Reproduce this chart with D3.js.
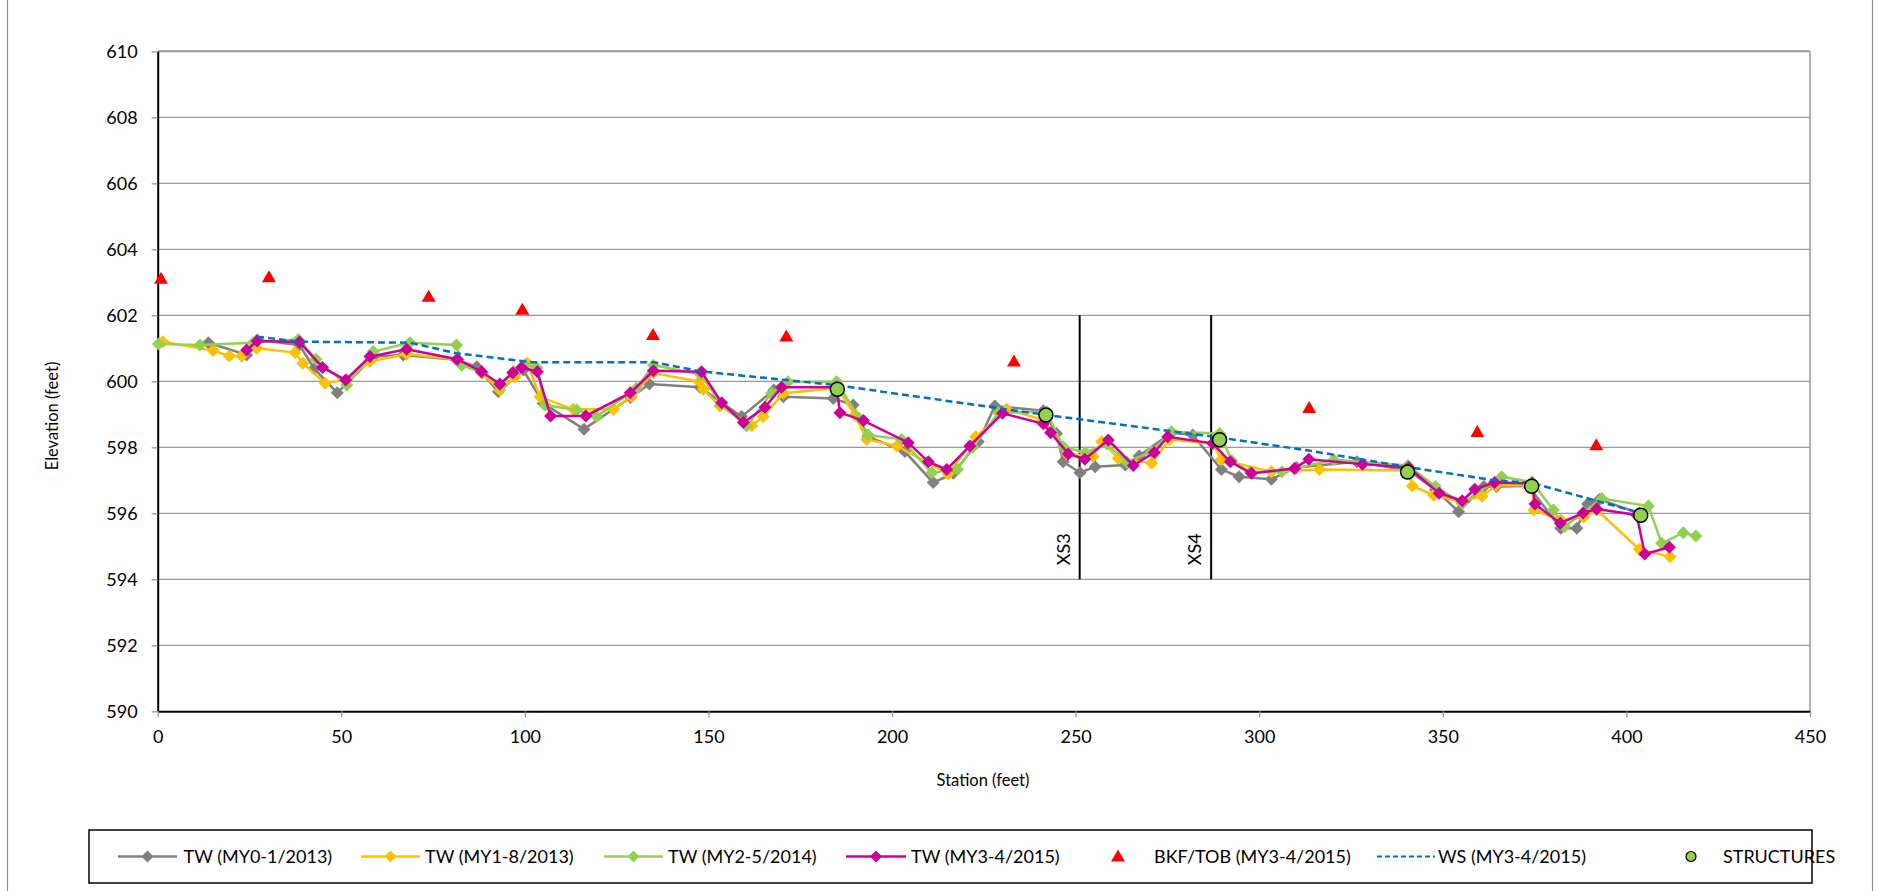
<!DOCTYPE html>
<html><head><meta charset="utf-8">
<script src="https://cdn.jsdelivr.net/npm/d3@7"></script>
<style>
html,body{margin:0;padding:0;background:#fff;}
svg{display:block;font-family:Lato, "Open Sans", sans-serif;}
</style></head>
<body><svg id="c" width="1881" height="891"></svg>
<script>
// ---- data ----
const yTicks = [590,592,594,596,598,600,602,604,606,608,610];
const xTicks = [0,50,100,150,200,250,300,350,400,450];

const twMY0 = [[13.8,601.17],[24.2,600.80],[27.1,601.25],[38.6,601.10],[42.6,600.39],[48.9,599.65],[58.8,600.75],[66.9,600.80],[81.4,600.65],[86.9,600.44],[92.8,599.68],[99.6,600.34],[105.0,599.33],[116.1,598.55],[128.8,599.51],[133.9,599.92],[147.7,599.82],[159.0,598.93],[167.8,599.74],[170.4,599.53],[184.0,599.48],[189.4,599.28],[193.5,598.32],[203.5,597.87],[211.2,596.93],[216.7,597.21],[223.5,598.17],[228.0,599.25],[241.2,599.11],[244.8,598.42],[246.6,597.56],[251.2,597.23],[255.3,597.41],[263.5,597.46],[267.3,597.74],[276.1,598.44],[281.9,598.37],[289.7,597.33],[294.5,597.11],[303.3,597.03],[310.1,597.39],[326.6,597.56],[340.7,597.30],[348.0,596.71],[354.3,596.05],[361.2,596.81],[364.6,596.81],[373.3,596.83],[382.1,595.55],[386.5,595.55],[389.4,596.28],[392.6,596.42],[403.5,596.00]];

const twMY1 = [[1.4,601.20],[15.1,600.93],[19.5,600.77],[22.9,600.77],[27.0,601.00],[37.4,600.87],[39.5,600.55],[45.6,599.94],[51.5,600.05],[57.8,600.60],[67.8,600.83],[81.9,600.65],[88.2,600.25],[93.2,599.74],[97.3,600.12],[100.7,600.55],[104.1,599.53],[113.2,599.15],[124.1,599.15],[129.0,599.55],[135.0,600.25],[147.5,599.99],[148.6,599.76],[153.1,599.25],[161.8,598.65],[164.9,598.93],[170.4,599.64],[185.1,599.80],[189.9,598.98],[193.1,598.24],[201.3,598.04],[215.3,597.19],[222.8,598.32],[231.2,599.15],[241.2,598.83],[247.6,597.80],[254.8,597.72],[257.1,598.17],[261.6,597.67],[270.7,597.52],[275.6,598.24],[287.5,598.10],[289.7,597.62],[303.3,597.26],[316.4,597.33],[340.5,597.30],[341.7,596.83],[347.5,596.55],[355.0,596.35],[360.7,596.52],[364.5,596.85],[374.3,596.85],[374.8,596.10],[382.1,595.80],[388.4,595.88],[392.0,596.10],[403.5,594.91],[411.9,594.68]];

const twMY2 = [[0.2,601.13],[11.5,601.10],[26.0,601.17],[38.3,601.27],[43.1,600.67],[51.5,599.89],[58.7,600.90],[68.7,601.17],[81.4,601.10],[82.8,600.49],[88.5,600.25],[93.5,599.85],[97.0,600.30],[100.0,600.50],[103.2,600.42],[105.5,599.28],[114.1,599.13],[119.5,598.93],[130.4,599.79],[135.0,600.49],[148.0,600.20],[153.5,599.30],[160.4,598.65],[167.2,599.64],[171.7,599.99],[184.9,599.99],[191.1,598.88],[193.5,598.37],[202.6,598.24],[210.8,597.23],[217.8,597.33],[222.0,598.00],[229.0,599.05],[242.1,599.08],[246.6,598.02],[252.6,597.84],[258.5,598.10],[264.0,597.55],[270.7,597.87],[276.1,598.47],[289.2,598.42],[292.5,597.60],[297.5,597.25],[306.2,597.26],[320.3,597.62],[340.5,597.45],[348.0,596.81],[355.3,596.30],[366.0,597.11],[374.3,596.95],[380.1,596.10],[383.1,595.59],[393.3,596.45],[406.0,596.22],[409.6,595.09],[415.5,595.41],[418.9,595.31]];

const twMY3 = [[24.2,600.95],[27.1,601.22],[38.6,601.19],[44.9,600.42],[51.2,600.04],[57.8,600.75],[67.8,600.97],[81.6,600.67],[88.2,600.29],[93.2,599.92],[96.7,600.26],[99.1,600.42],[103.4,600.29],[107.0,598.95],[116.6,598.95],[128.7,599.65],[135.0,600.32],[148.1,600.29],[153.6,599.35],[159.5,598.75],[165.4,599.21],[169.9,599.82],[184.9,599.82],[185.8,599.05],[192.2,598.81],[204.4,598.14],[209.9,597.56],[214.9,597.33],[221.2,598.04],[230.1,599.03],[241.2,598.71],[243.2,598.44],[248.0,597.80],[252.5,597.64],[258.9,598.22],[265.7,597.45],[271.4,597.84],[275.1,598.32],[287.3,598.12],[292.1,597.56],[297.9,597.21],[309.6,597.36],[313.5,597.64],[328.1,597.49],[340.7,597.39],[349.0,596.61],[355.3,596.38],[358.7,596.73],[364.1,596.93],[374.3,596.91],[375.1,596.28],[382.0,595.70],[388.2,596.01],[391.9,596.13],[402.8,595.95],[405.0,594.77],[411.7,594.97]];

const bkf = [[0.9,603.11],[30.3,603.15],[73.8,602.56],[99.3,602.17],[134.9,601.40],[171.2,601.36],[233.2,600.60],[313.6,599.19],[359.4,598.46],[391.8,598.06]];

const ws = [[27.1,601.35],[38.6,601.20],[68.7,601.17],[81.4,600.85],[101.8,600.58],[135.0,600.58],[148.0,600.30],[185.0,599.88],[242.0,598.98],[289.0,598.30],[313.5,597.90],[340.5,597.40],[364.0,597.00],[374.3,596.92],[402.5,596.05]];

const structures = [[185.1,599.76],[241.9,598.98],[289.2,598.23],[340.4,597.25],[374.2,596.82],[403.9,595.94]];

const xsNames = ["XS3","XS4"];
const xsStations = [251.1,286.9];
const xsRange = [594,602];

const legendLabels = ["TW (MY0-1/2013)","TW (MY1-8/2013)","TW (MY2-5/2014)","TW (MY3-4/2015)","BKF/TOB (MY3-4/2015)","WS (MY3-4/2015)","STRUCTURES"];

// ---- drawing ----
const svg = d3.select("#c");
const x = d3.scaleLinear().domain([0,450]).range([157.7,1810]);
const y = d3.scaleLinear().domain([590,610]).range([711.3,51.3]);
const FONT = 18;

// outer border
svg.append("rect").attr("x",7.5).attr("y",-2).attr("width",1865).attr("height",896)
  .attr("fill","none").attr("stroke","#8c8c8c").attr("stroke-width",1.2);

// gridlines
svg.append("g").selectAll("line").data(yTicks.filter(t=>t>590)).join("line")
  .attr("x1",x(0)).attr("x2",x(450)).attr("y1",d=>y(d)).attr("y2",d=>y(d))
  .attr("stroke","#999").attr("stroke-width",d=>d===610?2:1.3);
// right border of plot
svg.append("line").attr("x1",x(450)).attr("x2",x(450)).attr("y1",y(610)).attr("y2",y(590))
  .attr("stroke","#999").attr("stroke-width",1.5);

// axes
const yAxis = svg.append("g").attr("transform",`translate(${x(0)},0)`)
  .call(d3.axisLeft(y).tickValues(yTicks).tickSize(6).tickPadding(14).tickSizeOuter(0));
const xAxis = svg.append("g").attr("transform",`translate(0,${y(590)})`)
  .call(d3.axisBottom(x).tickValues(xTicks).tickSize(6).tickPadding(13).tickSizeOuter(0));
[yAxis,xAxis].forEach(a=>{
  a.select(".domain").attr("stroke","#000").attr("stroke-width",2);
  a.selectAll(".tick line").attr("stroke","#999").attr("stroke-width",1.3);
  a.selectAll(".tick text").attr("font-size",FONT).attr("fill","#000").attr("font-family","Lato");
});

// axis titles
svg.append("text").attr("transform","translate(58,416) rotate(-90)").attr("text-anchor","middle")
  .attr("font-size",16.5).text("Elevation (feet)");
svg.append("text").attr("x",983).attr("y",786).attr("text-anchor","middle")
  .attr("font-size",16.5).text("Station (feet)");

// cross-section lines
xsStations.forEach((s,i)=>{
  svg.append("line").attr("x1",x(s)).attr("x2",x(s)).attr("y1",y(xsRange[0])).attr("y2",y(xsRange[1]))
    .attr("stroke","#000").attr("stroke-width",2);
  svg.append("text").attr("transform",`translate(${x(s)-10},${y(xsRange[0])-14}) rotate(-90)`)
    .attr("text-anchor","start").attr("font-size",FONT).text(xsNames[i]);
});

const diamond = r => `M0,${-r}L${r},0L0,${r}L${-r},0Z`;
const triangle = "M0,-7L7,5L-7,5Z";
const line = d3.line().x(d=>x(d[0])).y(d=>y(d[1]));

const tw = [
  {data:twMY0,color:"#808080"},
  {data:twMY1,color:"#FFC000"},
  {data:twMY2,color:"#92D050"},
  {data:twMY3,color:"#CC0099"}
];
tw.forEach(s=>{
  const g = svg.append("g");
  g.append("path").attr("d",line(s.data)).attr("fill","none").attr("stroke",s.color).attr("stroke-width",2.5);
  g.selectAll("path.m").data(s.data).join("path").attr("class","m")
    .attr("transform",d=>`translate(${x(d[0])},${y(d[1])})`).attr("d",diamond(6.5)).attr("fill",s.color);
});

// BKF
svg.append("g").selectAll("path").data(bkf).join("path")
  .attr("transform",d=>`translate(${x(d[0])},${y(d[1])})`).attr("d",triangle).attr("fill","#FF0000");

// WS
svg.append("path").attr("d",line(ws)).attr("fill","none").attr("stroke","#0070C0")
  .attr("stroke-width",2.5).attr("stroke-dasharray","7,4");

// structures
svg.append("g").selectAll("circle").data(structures).join("circle")
  .attr("cx",d=>x(d[0])).attr("cy",d=>y(d[1])).attr("r",7)
  .attr("fill","#92D050").attr("stroke","#000").attr("stroke-width",1.5);

// legend
const lg = svg.append("g");
lg.append("rect").attr("x",89).attr("y",830).attr("width",1723).attr("height",53)
  .attr("fill","#fff").attr("stroke","#000").attr("stroke-width",1.5);
const ly = 856.5;
const items = [
  {type:"line",color:"#808080",x0:118,x1:177,tx:183.5},
  {type:"line",color:"#FFC000",x0:361,x1:420,tx:425},
  {type:"line",color:"#92D050",x0:604,x1:663,tx:668},
  {type:"line",color:"#CC0099",x0:846,x1:906,tx:911},
  {type:"tri",color:"#FF0000",x0:1118,tx:1154},
  {type:"dash",color:"#0070C0",x0:1377,x1:1435,tx:1438},
  {type:"circ",color:"#92D050",x0:1691,tx:1723}
];
items.forEach((it,i)=>{
  if(it.type==="line"){
    lg.append("line").attr("x1",it.x0).attr("x2",it.x1).attr("y1",ly).attr("y2",ly).attr("stroke",it.color).attr("stroke-width",2.5);
    lg.append("path").attr("transform",`translate(${(it.x0+it.x1)/2},${ly})`).attr("d",diamond(6)).attr("fill",it.color);
  } else if(it.type==="tri"){
    lg.append("path").attr("transform",`translate(${it.x0},${ly})`).attr("d",triangle).attr("fill",it.color);
  } else if(it.type==="dash"){
    lg.append("line").attr("x1",it.x0).attr("x2",it.x1).attr("y1",ly).attr("y2",ly).attr("stroke",it.color).attr("stroke-width",2).attr("stroke-dasharray","5,3");
  } else {
    lg.append("circle").attr("cx",it.x0).attr("cy",ly).attr("r",5).attr("fill",it.color).attr("stroke","#000").attr("stroke-width",1.2);
  }
  lg.append("text").attr("x",it.tx).attr("y",ly).attr("dy","0.35em").attr("font-size",FONT).text(legendLabels[i]);
});
</script></body></html>
